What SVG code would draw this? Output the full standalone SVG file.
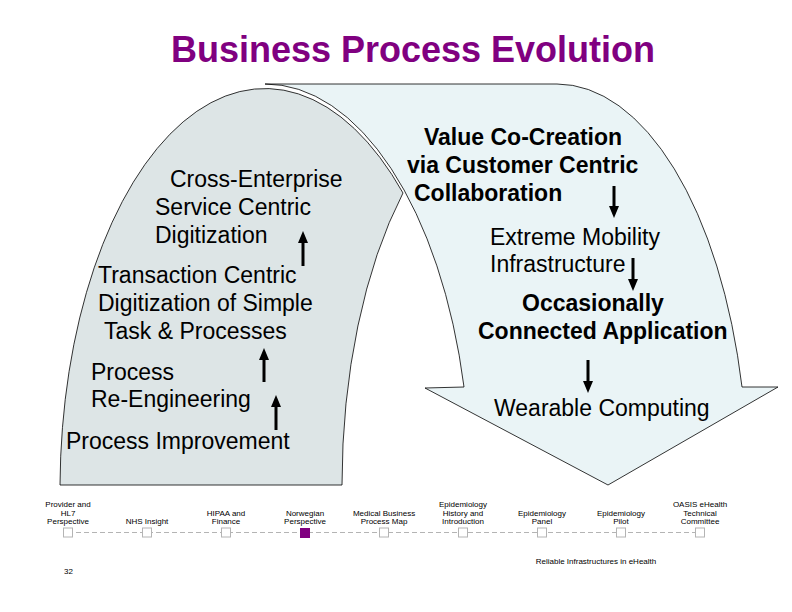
<svg xmlns="http://www.w3.org/2000/svg" width="792" height="612" viewBox="0 0 792 612">
<style>
.t{font-family:"Liberation Sans",Arial,sans-serif;font-size:23px;fill:#000}
.b{font-weight:bold}
.s{font-family:"Liberation Sans",Arial,sans-serif;font-size:8px;fill:#000;text-anchor:middle}
.sq{fill:#fff;stroke:#b4b4b4;stroke-width:1}
.ar{stroke:#000;stroke-width:3;fill:none}
</style>
<defs>
<marker id="ah" markerUnits="userSpaceOnUse" markerWidth="12" markerHeight="10" refX="1" refY="5" orient="auto" viewBox="0 0 12 10">
<path d="M0,0 L12,5 L0,10 Z" fill="#000"/>
</marker>
</defs>
<rect width="792" height="612" fill="#fff"/>
<text x="413" y="62" text-anchor="middle" style="font-family:'Liberation Sans',Arial,sans-serif;font-size:36px;font-weight:bold;fill:#800080">Business Process Evolution</text>
<g id="curved-arrow">
<path id="band" d="M265,84 L557,84 A191 401 0 0 1 742,387 L778,387 L608,485 L425,388 L464,387 A205 401 0 0 0 265,84 Z" fill="#eaf4f6" stroke="#000" stroke-width="0.8"/>
<path id="leg" d="M60,485 A205 401 0 0 1 403,193 A194 401 0 0 0 342,485 Z" fill="#dde5e6" stroke="#000" stroke-width="0.8"/>
</g>
<g id="cross-enterprise"><text class="t" x="170" y="187">Cross-Enterprise</text><text class="t" x="155" y="215">Service Centric</text><text class="t" x="155" y="243">Digitization</text></g>
<g id="transaction-centric"><text class="t" x="98" y="283">Transaction Centric</text><text class="t" x="98" y="311">Digitization of Simple</text><text class="t" x="104" y="339">Task &amp; Processes</text></g>
<g id="process-reengineering"><text class="t" x="91" y="380">Process</text><text class="t" x="91" y="407">Re-Engineering</text></g>
<g id="process-improvement"><text class="t" x="66" y="449">Process Improvement</text></g>
<g id="value-co-creation"><text class="t b" x="424" y="145">Value Co-Creation</text><text class="t b" x="407" y="173">via Customer Centric</text><text class="t b" x="414" y="201">Collaboration</text></g>
<g id="extreme-mobility"><text class="t" x="490" y="245">Extreme Mobility</text><text class="t" x="490" y="272">Infrastructure</text></g>
<g id="occasionally-connected"><text class="t b" x="522" y="311">Occasionally</text><text class="t b" x="478" y="339">Connected Application</text></g>
<g id="wearable-computing"><text class="t" x="494" y="416">Wearable Computing</text></g>
<g id="connectors">
<line class="ar" x1="303" y1="266" x2="303" y2="242" marker-end="url(#ah)"/>
<line class="ar" x1="264" y1="382" x2="264" y2="359" marker-end="url(#ah)"/>
<line class="ar" x1="276" y1="430" x2="276" y2="406" marker-end="url(#ah)"/>
<line class="ar" x1="614" y1="186" x2="614" y2="207" marker-end="url(#ah)"/>
<line class="ar" x1="633" y1="258" x2="633" y2="280" marker-end="url(#ah)"/>
<line class="ar" x1="588" y1="360" x2="588" y2="382" marker-end="url(#ah)"/>
</g>
<g id="navigation">
<line x1="68" y1="532.5" x2="700" y2="532.5" stroke="#b4b4b4" stroke-width="1" stroke-dasharray="5,3"/>
<g id="nav1"><rect class="sq" x="63.5" y="528" width="9" height="9"/><text class="s" x="68" y="507">Provider and</text><text class="s" x="68" y="515.5">HL7</text><text class="s" x="68" y="524">Perspective</text></g>
<g id="nav2"><rect class="sq" x="142.5" y="528" width="9" height="9"/><text class="s" x="147" y="524">NHS Insight</text></g>
<g id="nav3"><rect class="sq" x="221.5" y="528" width="9" height="9"/><text class="s" x="226" y="515.5">HIPAA and</text><text class="s" x="226" y="524">Finance</text></g>
<g id="nav4"><rect x="300" y="528" width="10" height="10" fill="#800080"/><text class="s" x="305" y="515.5">Norwegian</text><text class="s" x="305" y="524">Perspective</text></g>
<g id="nav5"><rect class="sq" x="379.5" y="528" width="9" height="9"/><text class="s" x="384" y="515.5">Medical Business</text><text class="s" x="384" y="524">Process Map</text></g>
<g id="nav6"><rect class="sq" x="458.5" y="528" width="9" height="9"/><text class="s" x="463" y="507">Epidemiology</text><text class="s" x="463" y="515.5">History and</text><text class="s" x="463" y="524">Introduction</text></g>
<g id="nav7"><rect class="sq" x="537.5" y="528" width="9" height="9"/><text class="s" x="542" y="515.5">Epidemiology</text><text class="s" x="542" y="524">Panel</text></g>
<g id="nav8"><rect class="sq" x="616.5" y="528" width="9" height="9"/><text class="s" x="621" y="515.5">Epidemiology</text><text class="s" x="621" y="524">Pilot</text></g>
<g id="nav9"><rect class="sq" x="695.5" y="528" width="9" height="9"/><text class="s" x="700" y="507">OASIS eHealth</text><text class="s" x="700" y="515.5">Technical</text><text class="s" x="700" y="524">Committee</text></g>
</g>
<text class="s" x="68.5" y="574">32</text>
<text class="s" x="596" y="564">Reliable Infrastructures in eHealth</text>
</svg>
